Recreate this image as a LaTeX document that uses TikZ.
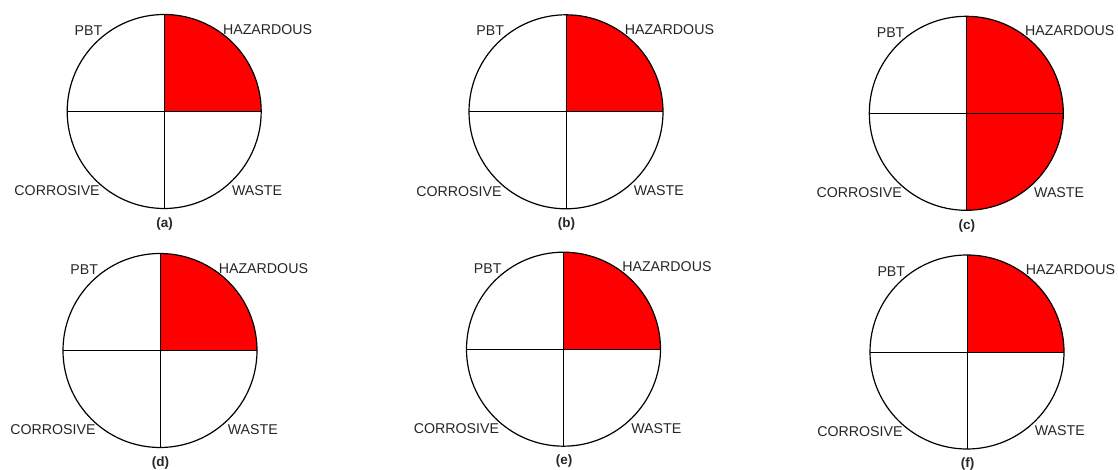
\documentclass[tikz,border=0pt]{standalone}
\usepackage{fontspec}
\setmainfont{Liberation Sans}
\usepackage{tikz}
\usetikzlibrary{positioning}
\definecolor{hazred}{RGB}{255,0,0}
\tikzset{
  pie/.style={
    circle,
    draw=black,
    line width=1.2pt,
    minimum size=194pt,
    inner sep=0pt,
    outer sep=0pt
  },
  hazq/.style={
    path picture={\fill[hazred] (path picture bounding box.center) rectangle (path picture bounding box.north east);}
  },
  hazh/.style={
    path picture={\fill[hazred] (path picture bounding box.south) rectangle (path picture bounding box.north east);}
  },
  cross/.style={line width=0.9pt, draw=black},
  lbl/.style={font=\fontsize{14.2}{16}\selectfont, text=black!85, inner sep=0pt},
  panelcap/.style={font=\fontsize{13.5}{15}\selectfont\bfseries, text=black!85, inner sep=0pt}
}

\begin{document}
\begin{tikzpicture}[x=1pt, y=1pt]
\useasboundingbox (0,0) rectangle (1118,470);

% six panels: name / centre / filled part
\foreach \n/\px/\py/\part in {a/164.2/358.5/hazq, b/566/358.2/hazq, c/966.3/356.7/hazh,
                              d/160/119.5/hazq, e/563.5/120.8/hazq, f/967/118/hazq}{
  \node[pie, \part] (\n) at (\px,\py) {};
  \draw[cross] (\n.north) -- (\n.south);
  \draw[cross] (\n.west) -- (\n.east);

  \node[lbl] (\n-pbt) at ([shift={(-75.7,80.8)}]\n.center) {PBT};
  \node[lbl] (\n-haz) at ([shift={(103.4,82.2)}]\n.center) {HAZARDOUS};
  \node[lbl] (\n-cor) at ([shift={(-107.1,-79.5)}]\n.center) {CORROSIVE};
  \node[lbl] (\n-was) at ([shift={(92.8,-79.1)}]\n.center) {WASTE};
  \node[panelcap] (\n-cap) at ([shift={(0.5,-112.3)}]\n.center) {(\n)};
}
\end{tikzpicture}
\end{document}
